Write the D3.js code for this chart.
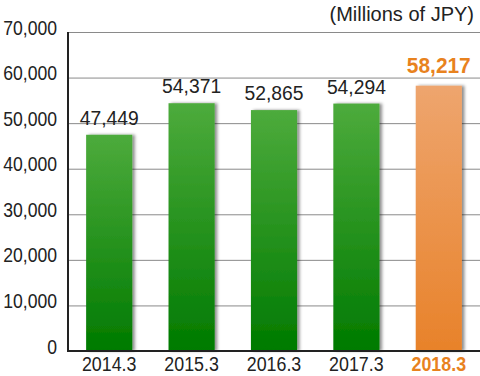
<!DOCTYPE html>
<html>
<head>
<meta charset="utf-8">
<script src="https://cdn.jsdelivr.net/npm/d3@7"></script>
<style>
  body { margin: 0; background: #fff; }
  text { font-family: "Liberation Sans", Arial, sans-serif; }
</style>
</head>
<body>
<div id="chart"></div>
<script>
const years = ["2014.3", "2015.3", "2016.3", "2017.3", "2018.3"]
const sales = [47449, 54371, 52865, 54294, 58217]
const yTicks = [0, 10000, 20000, 30000, 40000, 50000, 60000, 70000]
const unitLabel = "(Millions of JPY)"

let data = years.map((y, i) => ({year: y, value: sales[i], last: i == years.length - 1}))
let fmt = d3.format(",")

let margin = {top: 32, right: 0, bottom: 25, left: 68},
    width = 480 - margin.left - margin.right,
    height = 376 - margin.top - margin.bottom;

let svg = d3.select("#chart")
    .append("svg")
    .attr("width", 480)
    .attr("height", 376)

let defs = svg.append("defs")
let gGreen = defs.append("linearGradient").attr("id", "gGreen")
    .attr("x1", 0).attr("y1", 0).attr("x2", 0).attr("y2", 1)
gGreen.append("stop").attr("offset", "0%").attr("stop-color", "#4dab3c")
gGreen.append("stop").attr("offset", "100%").attr("stop-color", "#007a00")
let gOrange = defs.append("linearGradient").attr("id", "gOrange")
    .attr("x1", 0).attr("y1", 0).attr("x2", 0).attr("y2", 1)
gOrange.append("stop").attr("offset", "0%").attr("stop-color", "#eea56e")
gOrange.append("stop").attr("offset", "100%").attr("stop-color", "#e8822a")
defs.append("filter").attr("id", "shadow")
    .attr("x", "-20%").attr("y", "-10%").attr("width", "150%").attr("height", "120%")
    .append("feDropShadow")
    .attr("dx", 2.5).attr("dy", 0).attr("stdDeviation", 1.5)
    .attr("flood-color", "#000").attr("flood-opacity", 0.45)

let g = svg.append("g")
    .attr("transform", "translate(" + margin.left + "," + margin.top + ")")

let x = d3.scaleBand()
    .domain(years)
    .range([0, width])
    .paddingInner(0.44)
    .paddingOuter(0.22)

let y = d3.scaleLinear()
    .domain([0, 70000])
    .range([height, 0])

// gridlines
g.append("g")
    .selectAll("line")
    .data(yTicks.slice(1))
    .join("line")
    .attr("x1", 0)
    .attr("x2", width)
    .attr("y1", d => y(d) + 0.5)
    .attr("y2", d => y(d) + 0.5)
    .attr("stroke", "#8a8a8a")
    .attr("stroke-width", 1)

// y axis labels (narrow look via horizontal scale)
let yAxis = g.append("g")
    .call(d3.axisLeft(y).tickValues(yTicks).tickSize(0).tickFormat(fmt))
yAxis.select(".domain").remove()
yAxis.selectAll("text")
    .attr("x", 0)
    .attr("dy", "0.1em")
    .attr("transform", "translate(-11,0) scale(0.88,1)")
    .style("font-size", "20px")
    .attr("fill", "#222")

// bars
g.selectAll("rect.bar")
    .data(data)
    .join("rect")
    .attr("class", "bar")
    .attr("x", d => x(d.year))
    .attr("y", d => y(d.value))
    .attr("width", x.bandwidth())
    .attr("height", d => height - y(d.value))
    .attr("fill", d => d.last ? "url(#gOrange)" : "url(#gGreen)")
    .attr("filter", "url(#shadow)")

// value labels
g.selectAll("text.val")
    .data(data)
    .join("text")
    .attr("class", "val")
    .attr("text-anchor", "middle")
    .attr("transform", d => "translate(" + (x(d.year) + x.bandwidth() / 2) + "," +
        (y(d.value) - (d.last ? 13 : 10)) + ") scale(" + (d.last ? 0.95 : 0.92) + ",1)")
    .style("font-size", d => d.last ? "22px" : "21px")
    .style("font-weight", d => d.last ? "bold" : "normal")
    .attr("fill", d => d.last ? "#e8821e" : "#222")
    .text(d => fmt(d.value))

// axis lines
g.append("line")
    .attr("x1", 0).attr("x2", 0)
    .attr("y1", 0).attr("y2", height)
    .attr("stroke", "#222").attr("stroke-width", 2)
g.append("line")
    .attr("x1", -1).attr("x2", width)
    .attr("y1", height).attr("y2", height)
    .attr("stroke", "#222").attr("stroke-width", 2)

// x labels
let xAxis = g.append("g")
    .attr("transform", "translate(0," + height + ")")
    .call(d3.axisBottom(x).tickSize(0).tickPadding(5))
xAxis.select(".domain").remove()
xAxis.selectAll("text")
    .attr("transform", "scale(0.85,1)")
    .style("font-size", "21px")
    .style("font-weight", d => d == years[years.length - 1] ? "bold" : "normal")
    .attr("fill", d => d == years[years.length - 1] ? "#e8821e" : "#222")

svg.append("text")
    .attr("x", 474)
    .attr("y", 21)
    .attr("text-anchor", "end")
    .style("font-size", "20px")
    .attr("fill", "#222")
    .text(unitLabel)
</script>
</body>
</html>
